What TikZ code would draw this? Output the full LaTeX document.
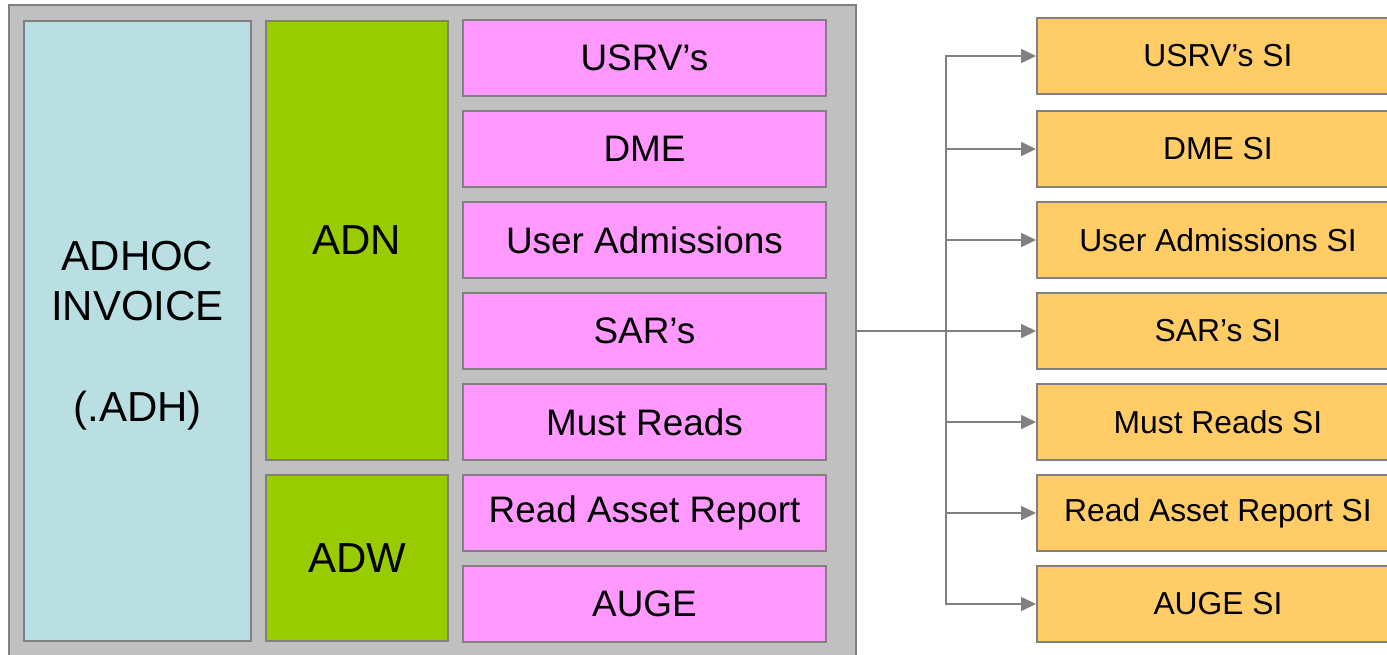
\documentclass[tikz,border=0pt]{standalone}
\usepackage{fontspec}
\setmainfont{Liberation Sans}
\usetikzlibrary{arrows.meta}
\definecolor{framegrey}{HTML}{808080}
\definecolor{backgrey}{HTML}{C0C0C0}
\definecolor{invblue}{HTML}{B9DFE3}
\definecolor{adgreen}{HTML}{99CC00}
\definecolor{repink}{HTML}{FF99FF}
\definecolor{siorange}{HTML}{FFCC66}
\tikzset{
	box/.style={draw=framegrey, line width=0.04cm, inner sep=0pt, align=center},
	bigbox/.style={box, font=\fontsize{23.9}{28.6}\selectfont},
	repbox/.style={box, fill=repink, minimum width=7.26cm, minimum height=1.52cm, font=\fontsize{21}{25}\selectfont},
	sibox/.style={box, fill=siorange, minimum width=7.24cm, minimum height=1.52cm, font=\fontsize{18.1}{22}\selectfont},
	link/.style={draw=framegrey, line width=0.03cm, -{Triangle[length=0.3cm, width=0.28cm]}}
}
\begin{document}
\begin{tikzpicture}[x=0.02cm, y=-0.02cm]
		\useasboundingbox (0,0) rectangle (1387,654);
		\node [box, fill=backgrey, minimum width=16.94cm, minimum height=13.5cm] (back) at (432.5,342.5) {};
		\node [bigbox, fill=invblue, minimum width=4.54cm, minimum height=12.4cm, text depth=0pt] (adh) at (137.5,331) {ADHOC\\INVOICE\\[28.6pt](.ADH)};
		\node [bigbox, fill=adgreen, minimum width=3.64cm, minimum height=8.78cm] (adn) at (357,240.5) {ADN};
		\node [bigbox, fill=adgreen, minimum width=3.64cm, minimum height=3.32cm] (adw) at (357,558) {ADW};
		\node [repbox] (usrv) at (644.5,58) {USRV’s};
		\node [repbox] (dme) at (644.5,149) {DME};
		\node [repbox] (useradm) at (644.5,240) {User Admissions};
		\node [repbox] (sar) at (644.5,331) {SAR’s};
		\node [repbox] (mustread) at (644.5,422) {Must Reads};
		\node [repbox] (readasset) at (644.5,513) {Read Asset Report};
		\node [repbox] (auge) at (644.5,604) {AUGE};
		\node [sibox] (usrvsi) at (1218,56) {USRV’s SI};
		\node [sibox] (dmesi) at (1218,149) {DME SI};
		\node [sibox] (useradmsi) at (1218,240) {User Admissions SI};
		\node [sibox] (sarsi) at (1218,331) {SAR’s SI};
		\node [sibox] (mustreadsi) at (1218,422) {Must Reads SI};
		\node [sibox] (readassetsi) at (1218,513) {Read Asset Report SI};
		\node [sibox] (augesi) at (1218,604) {AUGE SI};
		\coordinate (split) at (946,331);
		\draw [draw=framegrey, line width=0.03cm] (back.east |- sar.east) -- (split);
		\draw [link] (split) |- (usrvsi.west);
		\draw [link] (split) |- (dmesi.west);
		\draw [link] (split) |- (useradmsi.west);
		\draw [link] (split) -- (sarsi.west);
		\draw [link] (split) |- (mustreadsi.west);
		\draw [link] (split) |- (readassetsi.west);
		\draw [link] (split) |- (augesi.west);
	\end{tikzpicture}
\end{document}
